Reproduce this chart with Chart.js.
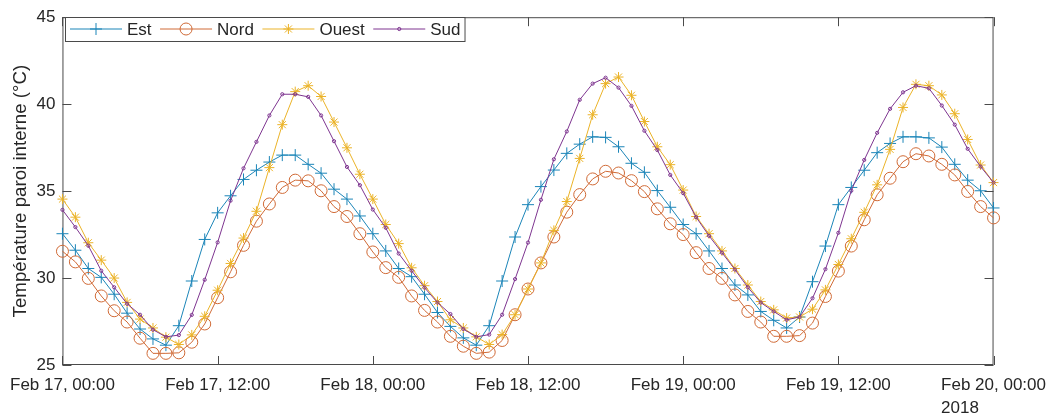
<!DOCTYPE html>
<html lang="fr">
<head>
  <meta charset="UTF-8">
  <title>Température paroi interne</title>
  <script src="https://cdn.jsdelivr.net/npm/chart.js"></script>
  <style>
    html, body { margin: 0; padding: 0; background: #fff; overflow: hidden; }
  </style>
</head>
<body>
  <canvas id="paroiChart" width="1056" height="416"></canvas>
  <script>
    // hours since Feb 17 00:00 (one reading per hour)
    const hours = Array.from({ length: 73 }, (_, i) => i);
    const xTickLabels = ['Feb 17, 00:00', 'Feb 17, 12:00', 'Feb 18, 00:00', 'Feb 18, 12:00',
                         'Feb 19, 00:00', 'Feb 19, 12:00', 'Feb 20, 00:00'];
    const yearLabel = '2018';

    const est = [32.55, 31.6, 30.55, 30.04, 29.07, 27.98, 27.07, 26.5, 26.14, 27.26, 29.83, 32.22, 33.75,
                 34.73, 35.67, 36.2, 36.67, 37.07, 37.07, 36.54, 36.03, 35.11, 34.54, 33.57, 32.55,
                 31.56, 30.55, 30.08, 29.07, 28.02, 27.22, 26.56, 26.14, 27.26, 29.83, 32.36, 34.22,
                 35.26, 36.21, 37.17, 37.7, 38.12, 38.09, 37.55, 36.6, 36.08, 35.03, 34.07, 33.08,
                 32.55, 31.56, 30.55, 29.6, 29.03, 28.08, 27.57, 27.13, 27.76, 29.79, 31.84, 34.22,
                 35.21, 36.2, 37.21, 37.74, 38.12, 38.12, 38.06, 37.53, 36.54, 35.63, 35.02, 34.03];
    const nord = [31.54, 30.93, 29.98, 28.97, 28.12, 27.47, 26.54, 25.67, 25.67, 25.7, 26.31, 27.36, 28.87,
                  30.36, 31.88, 33.27, 34.26, 35.21, 35.63, 35.59, 35.02, 34.11, 33.54, 32.55, 31.5,
                  30.6, 30.04, 28.97, 28.14, 27.47, 26.65, 26.08, 25.67, 25.74, 26.41, 27.89, 29.37,
                  30.87, 32.36, 33.79, 34.8, 35.7, 36.14, 36.04, 35.6, 34.97, 33.98, 33.12, 32.5,
                  31.46, 30.55, 29.98, 29.03, 28.08, 27.47, 26.65, 26.65, 26.69, 27.41, 28.94, 30.4,
                  31.84, 33.35, 34.79, 35.74, 36.69, 37.15, 37.02, 36.54, 35.93, 34.98, 34.11, 33.46];
    const ouest = [34.54, 33.5, 32.03, 31.03, 30.0, 28.6, 27.64, 27.13, 26.6, 26.18, 26.73, 27.8, 29.3,
                   30.84, 32.3, 33.84, 36.35, 38.82, 40.72, 41.06, 40.44, 38.97, 37.49, 35.97, 34.54,
                   33.08, 31.98, 30.59, 29.56, 28.65, 27.6, 27.13, 26.62, 26.18, 26.75, 27.89, 29.37,
                   30.87, 32.74, 34.4, 36.88, 39.39, 41.18, 41.56, 40.51, 39.0, 37.55, 36.52, 35.06,
                   33.54, 32.55, 31.56, 30.55, 29.6, 28.65, 28.17, 27.7, 27.76, 28.21, 29.32, 30.78,
                   32.26, 33.78, 35.36, 37.4, 39.81, 41.14, 41.06, 40.53, 39.45, 37.97, 36.5, 35.49];
    const sud = [33.92, 32.93, 31.86, 30.42, 29.47, 28.52, 27.89, 27.03, 26.62, 26.72, 27.88, 29.9, 32.05,
                 34.45, 36.31, 37.83, 39.35, 40.57, 40.57, 40.42, 39.35, 37.87, 36.39, 35.34, 33.94,
                 32.89, 31.41, 30.42, 29.45, 28.59, 27.93, 27.07, 26.62, 26.75, 27.89, 29.94, 32.04,
                 34.5, 36.83, 38.43, 40.25, 41.18, 41.52, 40.95, 39.9, 38.47, 37.36, 35.93, 34.88,
                 33.5, 32.43, 31.46, 30.49, 29.47, 28.59, 28.08, 27.6, 27.76, 28.84, 30.51, 32.6,
                 35.02, 36.79, 38.35, 39.73, 40.68, 41.06, 40.91, 39.92, 38.82, 37.43, 36.41, 35.49];

    const FONT = "'Liberation Sans', Arial, sans-serif";
    const TEXT = '#262626';
    const AXIS = '#4a4a4a';

    function series(label, values, color, style, radius, order) {
      return {
        label: label,
        data: hours.map((h, i) => ({ x: h, y: values[i] })),
        borderColor: color,
        backgroundColor: style === 'circle' ? 'rgba(0,0,0,0)' : color,
        borderWidth: 1,
        pointStyle: style,
        pointRadius: radius,
        pointBorderWidth: 1,
        pointBorderColor: color,
        pointBackgroundColor: style === 'circle' ? 'rgba(0,0,0,0)' : color,
        tension: 0,
        clip: false,
        order: order
      };
    }

    // box round the axes, with inward ticks on all four sides
    const framePlugin = {
      id: 'frame',
      beforeDatasetsDraw(chart) {
        const { ctx, chartArea: a, scales: { x, y } } = chart;
        ctx.save();
        ctx.strokeStyle = AXIS;
        ctx.lineWidth = 1;
        ctx.strokeRect(a.left + 0.5, a.top + 0.5, a.right - a.left - 1, a.bottom - a.top - 1);
        ctx.beginPath();
        x.ticks.forEach(t => {
          const px = Math.round(x.getPixelForValue(t.value)) + 0.5;
          ctx.moveTo(px, a.bottom); ctx.lineTo(px, a.bottom - 9);
          ctx.moveTo(px, a.top); ctx.lineTo(px, a.top + 9);
        });
        y.ticks.forEach(t => {
          const py = Math.round(y.getPixelForValue(t.value)) + 0.5;
          ctx.moveTo(a.left, py); ctx.lineTo(a.left + 9, py);
          ctx.moveTo(a.right, py); ctx.lineTo(a.right - 9, py);
        });
        ctx.stroke();
        ctx.restore();
      },
      afterDraw(chart) {
        const { ctx, scales: { x } } = chart;
        ctx.save();
        // year under the last date label, left-aligned with it
        ctx.font = '17px ' + FONT;
        ctx.fillStyle = TEXT;
        ctx.textBaseline = 'middle';
        ctx.textAlign = 'left';
        const w = ctx.measureText(xTickLabels[xTickLabels.length - 1]).width;
        ctx.fillText(yearLabel, x.getPixelForValue(72) - w / 2, 408);
        ctx.restore();
      }
    };

    // MATLAB-like legend inside the top-left corner
    const legendPlugin = {
      id: 'boxLegend',
      afterDatasetsDraw(chart) {
        const { ctx } = chart;
        const sets = chart.data.datasets;
        ctx.save();
        ctx.font = '17px ' + FONT;
        const top = 17, h = 24, cy = top + h / 2;
        let x = 70;
        const items = sets.map(ds => {
          const it = { ds: ds, x: x };
          x += 57 + ctx.measureText(ds.label).width + 8.5;
          return it;
        });
        const right = x - 8.5 + 4;
        ctx.fillStyle = '#fff';
        ctx.fillRect(65, top, right - 65, h);
        ctx.strokeStyle = AXIS;
        ctx.lineWidth = 1;
        ctx.strokeRect(65.5, top + 0.5, right - 65, h);
        items.forEach(it => {
          const ds = it.ds;
          ctx.strokeStyle = ds.borderColor;
          ctx.lineWidth = 1;
          ctx.beginPath();
          ctx.moveTo(it.x, cy); ctx.lineTo(it.x + 52, cy);
          ctx.stroke();
          ctx.fillStyle = ds.pointBackgroundColor;
          Chart.helpers.drawPoint(ctx, {
            pointStyle: ds.pointStyle, radius: ds.pointRadius, borderWidth: 1, rotation: 0
          }, it.x + 26, cy);
          ctx.fillStyle = TEXT;
          ctx.textBaseline = 'middle';
          ctx.textAlign = 'left';
          ctx.fillText(ds.label, it.x + 57, cy + 1);
        });
        ctx.restore();
      }
    };

    const ctx = document.getElementById('paroiChart').getContext('2d');
    new Chart(ctx, {
      type: 'line',
      data: {
        datasets: [
          series('Est', est, '#1b85b8', 'cross', 6, 4),
          series('Nord', nord, '#d06a36', 'circle', 6, 3),
          series('Ouest', ouest, '#ebb328', 'star', 5, 2),
          series('Sud', sud, '#7e3590', 'circle', 1.6, 1)
        ]
      },
      options: {
        responsive: false,
        animation: false,
        events: [],
        layout: { padding: { top: 16, right: 60, left: 0, bottom: 0 } },
        plugins: {
          legend: { display: false },
          tooltip: { enabled: false }
        },
        scales: {
          x: {
            type: 'linear',
            min: 0,
            max: 72,
            grid: { display: false, drawTicks: false },
            border: { display: false },
            ticks: {
              stepSize: 12,
              maxRotation: 0,
              autoSkip: false,
              padding: 10,
              color: TEXT,
              font: { family: FONT, size: 17 },
              callback: v => xTickLabels[v / 12]
            },
            afterFit: s => { s.height = 51; }
          },
          y: {
            min: 25,
            max: 45,
            grid: { display: false, drawTicks: false },
            border: { display: false },
            ticks: {
              stepSize: 5,
              padding: 7,
              color: TEXT,
              font: { family: FONT, size: 17 }
            },
            title: {
              display: true,
              text: 'Température paroi interne (°C)',
              color: TEXT,
              padding: { top: 9, bottom: 0 },
              font: { family: FONT, size: 18.7 }
            },
            afterFit: s => { s.width = 62; }
          }
        }
      },
      plugins: [framePlugin, legendPlugin]
    });
  </script>
</body>
</html>
